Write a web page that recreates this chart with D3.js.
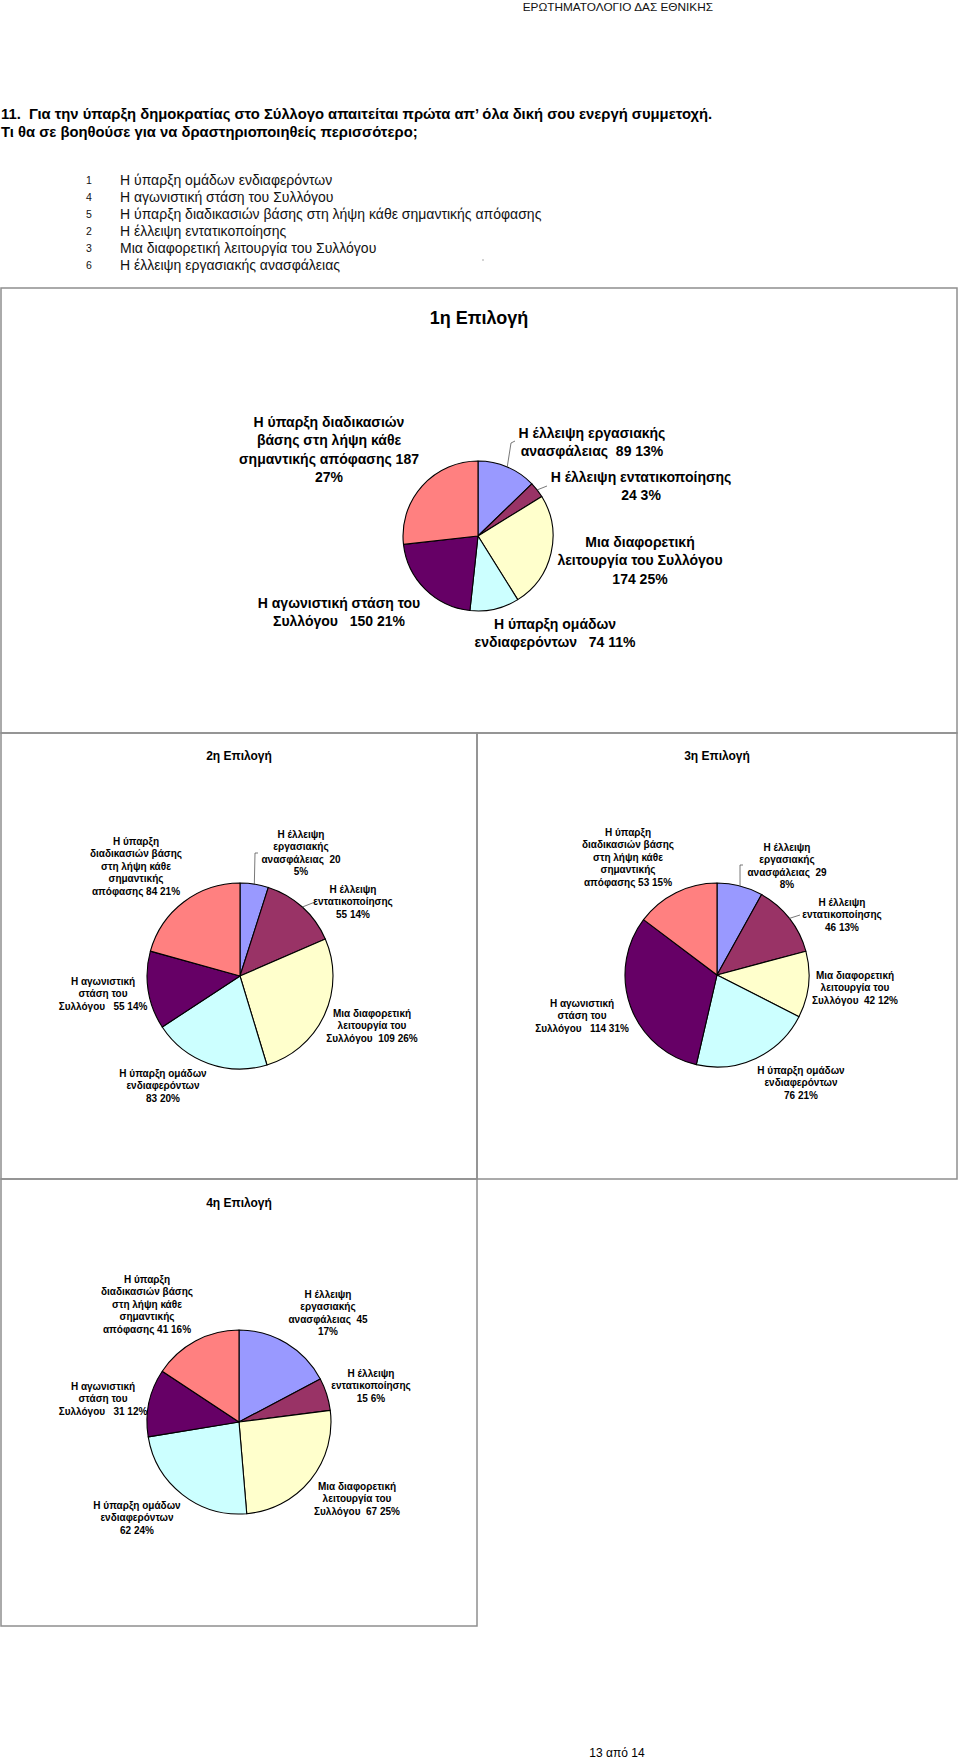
<!DOCTYPE html>
<html><head><meta charset="utf-8">
<script src="https://cdn.jsdelivr.net/npm/d3@7"></script>
<style>
html,body{margin:0;padding:0;background:#fff;}
text{font-family:"Liberation Sans",Arial,sans-serif;white-space:pre;}
</style></head>
<body>
<svg id="page" width="960" height="1760"></svg>
<script>
// ---------- data ----------
const headerText = "ΕΡΩΤΗΜΑΤΟΛΟΓΙΟ ΔΑΣ ΕΘΝΙΚΗΣ";
const questionLines = [
  "11.  Για την ύπαρξη δημοκρατίας στο Σύλλογο απαιτείται πρώτα απ’ όλα δική σου ενεργή συμμετοχή.",
  "Τι θα σε βοηθούσε για να δραστηριοποιηθείς περισσότερο;"
];
const listNumbers = ["1","4","5","2","3","6"];
const listItems = [
  "Η ύπαρξη ομάδων ενδιαφερόντων",
  "Η αγωνιστική στάση του Συλλόγου",
  "Η ύπαρξη διαδικασιών βάσης στη λήψη κάθε σημαντικής απόφασης",
  "Η έλλειψη εντατικοποίησης",
  "Μια διαφορετική λειτουργία του Συλλόγου",
  "Η έλλειψη εργασιακής ανασφάλειας"
];
const categories = [
  "Η έλλειψη εργασιακής ανασφάλειας",
  "Η έλλειψη εντατικοποίησης",
  "Μια διαφορετική λειτουργία του Συλλόγου",
  "Η ύπαρξη ομάδων ενδιαφερόντων",
  "Η αγωνιστική στάση του Συλλόγου",
  "Η ύπαρξη διαδικασιών βάσης στη λήψη κάθε σημαντικής απόφασης"
];
const sliceColors = ["#9999FF","#993366","#FFFFCC","#CCFFFF","#660066","#FF8080"];
const chartTitles = ["1η Επιλογή","2η Επιλογή","3η Επιλογή","4η Επιλογή"];
const choice1 = [89, 24, 174, 74, 150, 187];
const choice2 = [20, 55, 109, 83, 55, 84];
const choice3 = [29, 46, 42, 76, 114, 53];
const choice4 = [45, 15, 67, 62, 31, 41];
const pct1 = [13, 3, 25, 11, 21, 27];
const pct2 = [5, 14, 26, 20, 14, 21];
const pct3 = [8, 13, 12, 21, 31, 15];
const pct4 = [17, 6, 25, 24, 12, 16];
const footerText = "13 από 14";

// label line templates ({v} value, {p} percent)
const bigWrap = [
  ["Η έλλειψη εργασιακής", "ανασφάλειας  {v} {p}%"],
  ["Η έλλειψη εντατικοποίησης", "{v} {p}%"],
  ["Μια διαφορετική", "λειτουργία του Συλλόγου", "{v} {p}%"],
  ["Η ύπαρξη ομάδων", "ενδιαφερόντων   {v} {p}%"],
  ["Η αγωνιστική στάση του", "Συλλόγου   {v} {p}%"],
  ["Η ύπαρξη διαδικασιών", "βάσης στη λήψη κάθε", "σημαντικής απόφασης {v}", "{p}%"]
];
const smallWrap = [
  ["Η έλλειψη", "εργασιακής", "ανασφάλειας  {v}", "{p}%"],
  ["Η έλλειψη", "εντατικοποίησης", "{v} {p}%"],
  ["Μια διαφορετική", "λειτουργία του", "Συλλόγου  {v} {p}%"],
  ["Η ύπαρξη ομάδων", "ενδιαφερόντων", "{v} {p}%"],
  ["Η αγωνιστική", "στάση του", "Συλλόγου   {v} {p}%"],
  ["Η ύπαρξη", "διαδικασιών βάσης", "στη λήψη κάθε", "σημαντικής", "απόφασης {v} {p}%"]
];

// ---------- layout ----------
const charts = [
  {values: choice1, pcts: pct1, wrap: bigWrap, box:[1,288,956,445], cx:478, cy:536, r:75,
   titleY:318, titleSize:18, labelSize:14, lineH:18.3,
   labelPos:[[114,-103],[163,-59],[162,6],[77,88],[-139,67],[-149,-114]],
   leaders:{0:[[33,-93],[37,-95]], 1:[[69,-50]]}},
  {values: choice2, pcts: pct2, wrap: smallWrap, box:[1,733,476,446], cx:240, cy:976, r:93,
   titleY:756, titleSize:12, labelSize:10, lineH:12.6,
   labelPos:[[61,-142],[113,-87],[132,37],[-77,97],[-137,5],[-104,-135]],
   leaders:{0:[[15,-123],[18,-123]], 1:[[75,-74]]}},
  {values: choice3, pcts: pct3, wrap: smallWrap, box:[477,733,480,446], cx:717, cy:975, r:92,
   titleY:756, titleSize:12, labelSize:10, lineH:12.6,
   labelPos:[[70,-128],[125,-73],[138,0],[84,95],[-135,28],[-89,-143]],
   leaders:{0:[[23,-110],[26,-110]], 1:[[83,-60]]}},
  {values: choice4, pcts: pct4, wrap: smallWrap, box:[1,1179,476,447], cx:239, cy:1422, r:92,
   titleY:1203, titleSize:12, labelSize:10, lineH:12.6,
   labelPos:[[89,-128],[132,-49],[118,64],[-102,83],[-136,-36],[-92,-143]],
   leaders:{}}
];

const svg = d3.select("#page");

// header
svg.append("text").attr("x", 713).attr("y", 7).attr("text-anchor","end")
  .attr("dominant-baseline","central").attr("font-size", 11.8).attr("fill","#111").text(headerText);

// question
questionLines.forEach((t,i) => {
  svg.append("text").attr("x", 1).attr("y", 114 + i*18).attr("dominant-baseline","central")
    .attr("font-size", 14.8).attr("font-weight","bold").attr("fill","#000").text(t);
});

// numbered list
const listY = d3.scalePoint().domain(d3.range(listItems.length)).range([180, 265]);
listItems.forEach((t,i) => {
  svg.append("text").attr("x", 89).attr("y", listY(i)).attr("text-anchor","middle")
    .attr("dominant-baseline","central").attr("font-size", 10.5).attr("fill","#111").text(listNumbers[i]);
  svg.append("text").attr("x", 120).attr("y", listY(i)).attr("dominant-baseline","central")
    .attr("font-size", 14).attr("fill","#111").text(t);
});
svg.append("circle").attr("cx",483).attr("cy",260).attr("r",0.7).attr("fill","#888");

// charts
const pie = d3.pie().sort(null).value(d => d);
charts.forEach((c, ci) => {
  const [bx,by,bw,bh] = c.box;
  svg.append("rect").attr("x",bx).attr("y",by).attr("width",bw).attr("height",bh)
    .attr("fill","none").attr("stroke","#8f8f8f").attr("stroke-width",1.5);
  svg.append("text").attr("x", bx + bw/2).attr("y", c.titleY).attr("text-anchor","middle")
    .attr("dominant-baseline","central").attr("font-size", c.titleSize).attr("font-weight","bold")
    .attr("fill","#000").text(chartTitles[ci]);

  const g = svg.append("g").attr("transform", `translate(${c.cx},${c.cy})`);
  const arcs = pie(c.values);
  const arc = d3.arc().innerRadius(0).outerRadius(c.r);
  const edge = d3.arc().innerRadius(c.r).outerRadius(c.r);
  g.selectAll("path.slice").data(arcs).join("path").attr("class","slice")
    .attr("d", arc).attr("fill", (d,i) => sliceColors[i])
    .attr("stroke","#000").attr("stroke-width",1.1).attr("stroke-linejoin","round");

  // leader lines
  Object.entries(c.leaders).forEach(([k, pts]) => {
    const a = arcs[+k];
    const p0 = edge.centroid(a);
    const line = d3.line();
    g.append("path").attr("d", line([p0, ...pts])).attr("fill","none")
      .attr("stroke","#555").attr("stroke-width",0.8);
  });

  // labels
  arcs.forEach((a, i) => {
    const lines = c.wrap[i].map(s => s.replace("{v}", c.values[i]).replace("{p}", c.pcts[i]));
    const [dx, dy] = c.labelPos[i];
    const t = g.append("text").attr("text-anchor","middle").attr("font-size", c.labelSize)
      .attr("font-weight","bold").attr("fill","#000");
    lines.forEach((ln, j) => {
      t.append("tspan").attr("x", dx).attr("y", dy + j*c.lineH)
        .attr("dominant-baseline","central").text(ln);
    });
  });
});

// footer
svg.append("text").attr("x", 617).attr("y", 1753).attr("text-anchor","middle")
  .attr("dominant-baseline","central").attr("font-size", 12).attr("fill","#000").text(footerText);
</script>
</body></html>
